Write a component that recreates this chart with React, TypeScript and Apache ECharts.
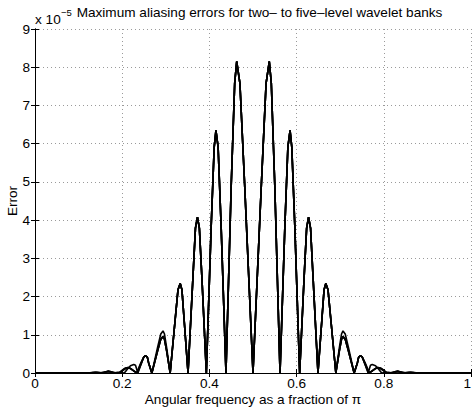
import React, { useEffect, useRef } from "react";
import * as echarts from "echarts";

// Tick labels
const xTicks = [0, 0.2, 0.4, 0.6, 0.8, 1];
const yTicks = [0, 1, 2, 3, 4, 5, 6, 7, 8, 9];
const levelNames = ["two-level", "three-level", "four-level", "five-level"];

// Shared central lobes (x as fraction of pi, error in units of 1e-5)
const coreLobes: number[][] = [
  [0.310, 0], [0.3215, 1.40], [0.328, 2.18], [0.333, 2.34], [0.337, 2.18], [0.342, 1.40],
  [0.351, 0], [0.362, 2.45], [0.368, 3.79], [0.3726, 4.08], [0.377, 3.79], [0.383, 2.45],
  [0.393, 0], [0.404, 3.81], [0.411, 5.91], [0.415, 6.35], [0.420, 5.91], [0.427, 3.81],
  [0.438, 0], [0.450, 4.89], [0.458, 7.58], [0.4626, 8.15], [0.470, 7.58], [0.481, 4.89],
  [0.500, 0], [0.519, 4.89], [0.530, 7.58], [0.5374, 8.15], [0.542, 7.58], [0.550, 4.89],
  [0.562, 0], [0.573, 3.81], [0.580, 5.91], [0.585, 6.35], [0.589, 5.91], [0.596, 3.81],
  [0.607, 0], [0.617, 2.45], [0.623, 3.79], [0.6274, 4.08], [0.632, 3.79], [0.638, 2.45],
  [0.649, 0], [0.658, 1.40], [0.663, 2.18], [0.667, 2.34], [0.672, 2.18], [0.6785, 1.40],
  [0.690, 0],
];

// Outer lobes, per level
const level2Left: number[][] = [
  [0, 0], [0.10, 0], [0.125, 0.006], [0.138, 0.018], [0.146, 0.008], [0.155, 0.002],
  [0.163, 0.03], [0.169, 0.05], [0.175, 0.035], [0.183, 0.005], [0.19, 0.02], [0.197, 0.01],
  [0.205, 0], [0.213, 0.12], [0.219, 0.19], [0.2265, 0.22], [0.2305, 0.2], [0.236, 0],
  [0.2445, 0.27], [0.2496, 0.42], [0.253, 0.45], [0.2575, 0.42], [0.2605, 0.27], [0.268, 0],
  [0.281, 0.66], [0.2885, 1.02], [0.2936, 1.10], [0.297, 1.02], [0.302, 0.66],
];
const level2Right: number[][] = [
  [0.698, 0.66], [0.703, 1.02], [0.7064, 1.10], [0.7115, 1.02], [0.719, 0.66], [0.732, 0],
  [0.7395, 0.27], [0.7425, 0.42], [0.747, 0.45], [0.7504, 0.42], [0.7555, 0.27], [0.764, 0],
  [0.7695, 0.2], [0.7735, 0.22], [0.781, 0.19], [0.787, 0.12], [0.795, 0],
  [0.803, 0.01], [0.81, 0.02], [0.817, 0.005], [0.825, 0.035], [0.831, 0.05], [0.837, 0.03],
  [0.845, 0.002], [0.854, 0.008], [0.862, 0.018], [0.875, 0.006], [0.90, 0], [1, 0],
];
const level3Left: number[][] = [
  [0, 0], [0.10, 0], [0.13, 0.01], [0.14, 0.02], [0.15, 0.005], [0.16, 0.02],
  [0.167, 0.045], [0.174, 0.03], [0.18, 0.005], [0.192, 0], [0.201, 0.08], [0.207, 0.125],
  [0.213, 0.14], [0.218, 0.125], [0.225, 0.07], [0.233, 0],
  [0.2425, 0.26], [0.2496, 0.42], [0.253, 0.45], [0.2575, 0.42], [0.2605, 0.27], [0.268, 0],
  [0.281, 0.57], [0.2885, 0.88], [0.2936, 0.95], [0.297, 0.88], [0.302, 0.57],
];
const level3Right: number[][] = [
  [0.698, 0.57], [0.703, 0.88], [0.7064, 0.95], [0.7115, 0.88], [0.719, 0.57], [0.732, 0],
  [0.7395, 0.27], [0.7425, 0.42], [0.747, 0.45], [0.7504, 0.42], [0.7575, 0.26], [0.767, 0],
  [0.775, 0.07], [0.782, 0.125], [0.787, 0.14], [0.793, 0.125], [0.799, 0.08], [0.808, 0],
  [0.82, 0.005], [0.826, 0.03], [0.833, 0.045], [0.84, 0.02], [0.85, 0.005], [0.86, 0.02],
  [0.87, 0.01], [0.90, 0], [1, 0],
];
const level4Left: number[][] = [
  [0, 0], [0.11, 0], [0.132, 0.008], [0.142, 0.015], [0.152, 0.004], [0.161, 0.025],
  [0.168, 0.04], [0.175, 0.02], [0.185, 0.003], [0.194, 0], [0.202, 0.085], [0.208, 0.13],
  [0.214, 0.145], [0.219, 0.12], [0.226, 0.06], [0.234, 0],
  [0.2435, 0.265], [0.2496, 0.42], [0.253, 0.45], [0.2575, 0.42], [0.2605, 0.27], [0.268, 0],
  [0.281, 0.58], [0.2885, 0.89], [0.2936, 0.96], [0.297, 0.89], [0.302, 0.58],
];
const level4Right: number[][] = [
  [0.698, 0.58], [0.703, 0.89], [0.7064, 0.96], [0.7115, 0.89], [0.719, 0.58], [0.732, 0],
  [0.7395, 0.27], [0.7425, 0.42], [0.747, 0.45], [0.7504, 0.42], [0.7565, 0.265], [0.766, 0],
  [0.774, 0.06], [0.781, 0.12], [0.786, 0.145], [0.792, 0.13], [0.798, 0.085], [0.806, 0],
  [0.815, 0.003], [0.825, 0.02], [0.832, 0.04], [0.839, 0.025], [0.848, 0.004], [0.858, 0.015],
  [0.868, 0.008], [0.89, 0], [1, 0],
];
const level5Left: number[][] = [
  [0, 0], [0.11, 0], [0.135, 0.006], [0.145, 0.012], [0.154, 0.003], [0.162, 0.02],
  [0.17, 0.035], [0.177, 0.015], [0.186, 0.002], [0.195, 0], [0.203, 0.08], [0.209, 0.12],
  [0.215, 0.13], [0.22, 0.11], [0.227, 0.05], [0.235, 0],
  [0.2445, 0.27], [0.2496, 0.42], [0.253, 0.45], [0.2575, 0.42], [0.2605, 0.27], [0.268, 0],
  [0.281, 0.57], [0.2885, 0.88], [0.2936, 0.95], [0.297, 0.88], [0.302, 0.57],
];
const level5Right: number[][] = [
  [0.698, 0.57], [0.703, 0.88], [0.7064, 0.95], [0.7115, 0.88], [0.719, 0.57], [0.732, 0],
  [0.7395, 0.27], [0.7425, 0.42], [0.747, 0.45], [0.7504, 0.42], [0.7555, 0.27], [0.765, 0],
  [0.773, 0.05], [0.78, 0.11], [0.785, 0.13], [0.791, 0.12], [0.797, 0.08], [0.805, 0],
  [0.814, 0.002], [0.823, 0.015], [0.83, 0.035], [0.838, 0.02], [0.846, 0.003], [0.855, 0.012],
  [0.865, 0.006], [0.89, 0], [1, 0],
];

const levelData: number[][][] = [
  [...level2Left, ...coreLobes, ...level2Right],
  [...level3Left, ...coreLobes, ...level3Right],
  [...level4Left, ...coreLobes, ...level4Right],
  [...level5Left, ...coreLobes, ...level5Right],
];

const FONT = '"Liberation Sans", Arial, Helvetica, sans-serif';
const FS = 13.6;

export default function App() {
  const ref = useRef<HTMLDivElement>(null);
  useEffect(() => {
    if (!ref.current) return;
    const chart = echarts.init(ref.current, undefined, { renderer: "svg" });
    const fmt = (v: number) => String(Math.round(v * 10) / 10);
    const gridLine = { show: true, lineStyle: { color: "#9a9a9a", type: [1, 3] as any, width: 1 } };
    const axisLine = { show: true, lineStyle: { color: "#000", width: 1 } };
    const tick = { show: true, inside: true, length: 4, lineStyle: { color: "#000", width: 1 } };
    chart.setOption({
      animation: false,
      backgroundColor: "#fff",
      textStyle: { fontFamily: FONT },
      grid: { left: 35, right: 2, top: 29, bottom: 35, containLabel: false, outerBoundsMode: "none" },
      xAxis: [
        {
          type: "value", min: xTicks[0], max: xTicks[xTicks.length - 1], interval: 0.2, position: "bottom",
          axisLine, axisTick: tick, splitLine: gridLine,
          axisLabel: { color: "#000", fontSize: FS, fontFamily: FONT, margin: 3, formatter: fmt, alignMaxLabel: "right" },
          name: "Angular frequency as a fraction of π", nameLocation: "middle", nameGap: 19, nameMoveOverlap: false,
          nameTextStyle: { color: "#000", fontSize: FS, fontFamily: FONT },
        },
        {
          type: "value", min: xTicks[0], max: xTicks[xTicks.length - 1], interval: 0.2, position: "top",
          axisLine, axisTick: tick, splitLine: { show: false }, axisLabel: { show: false },
        },
      ],
      yAxis: [
        {
          type: "value", min: yTicks[0], max: yTicks[yTicks.length - 1], interval: 1, position: "left",
          axisLine, axisTick: tick, splitLine: gridLine,
          axisLabel: { color: "#000", fontSize: FS, fontFamily: FONT, margin: 5 },
          name: "Error", nameLocation: "middle", nameGap: 16, nameRotate: 90, nameMoveOverlap: false,
          nameTextStyle: { color: "#000", fontSize: FS, fontFamily: FONT },
        },
        {
          type: "value", min: yTicks[0], max: yTicks[yTicks.length - 1], interval: 1, position: "right",
          axisLine, axisTick: tick, splitLine: { show: false }, axisLabel: { show: false },
        },
      ],
      graphic: [
        {
          type: "text", x: 259.5, y: 12.5,
          style: {
            text: "Maximum aliasing errors for two– to five–level wavelet banks",
            fill: "#000", font: `${FS}px ${FONT}`, align: "center", verticalAlign: "middle",
            textAlign: "center", textVerticalAlign: "middle",
          },
        },
        {
          type: "text", x: 35, y: 19.5,
          style: { text: "x 10", fill: "#000", font: `${FS}px ${FONT}`, verticalAlign: "middle", textVerticalAlign: "middle" },
        },
        {
          type: "text", x: 61, y: 12.5,
          style: { text: "−5", fill: "#000", font: `9.5px ${FONT}`, verticalAlign: "middle", textVerticalAlign: "middle" },
        },
      ],
      series: levelData.map((d, i) => ({
        name: levelNames[i],
        type: "line",
        xAxisIndex: 0,
        yAxisIndex: 0,
        data: d,
        showSymbol: false,
        symbol: "none",
        lineStyle: { color: "#000", width: 1.6 },
        clip: true,
        z: 3,
      })),
    });
    return () => chart.dispose();
  }, []);
  return <div ref={ref} style={{ position: "fixed", left: 0, top: 0, width: 473, height: 408 }} />;
}
